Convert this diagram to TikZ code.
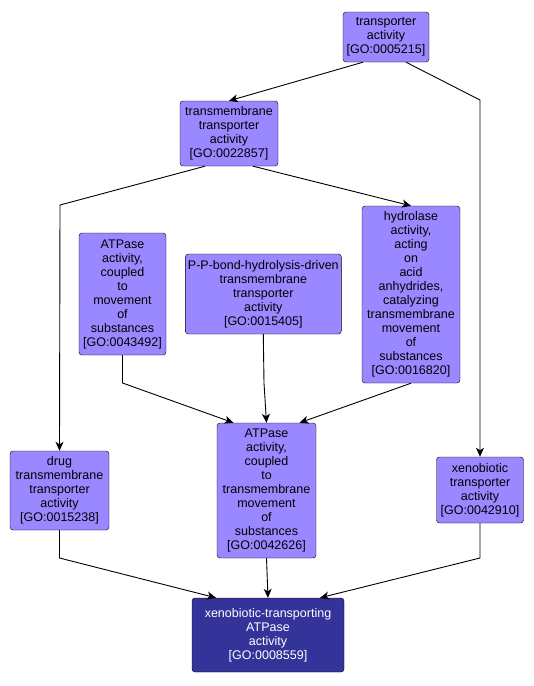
\documentclass[tikz,border=0pt]{standalone}
\usepackage{fontspec}
\setmainfont{Liberation Sans}
\usetikzlibrary{arrows.meta}
\definecolor{termfill}{RGB}{153,136,255}
\definecolor{targetfill}{RGB}{51,51,153}
\newcommand{\gofont}{\fontsize{12.5}{14}\selectfont}
\tikzset{
  goterm/.style={
    draw = black,
    fill = termfill,
    text = black,
    rounded corners = 3pt,
    inner sep = 0pt,
    align = center,
    font = \gofont
  },
  gotarget/.style={
    goterm,
    fill = targetfill,
    text = white
  },
  isa/.style={
    -{Stealth[length=9pt,width=8pt,inset=2.5pt]},
    line width = 0.9pt
  }
}

\begin{document}
\begin{tikzpicture}[x=1pt,y=-1pt]
            \useasboundingbox (0,0) rectangle (534,686);
            % terms
            \node[goterm,minimum width=86pt,minimum height=50pt] (tra) at (386,37)
                {transporter\\activity\\{[GO:0005215]}};
            \node[goterm,minimum width=98pt,minimum height=65pt] (tmt) at (229,133.5)
                {transmembrane\\transporter\\activity\\{[GO:0022857]}};
            \node[goterm,minimum width=87pt,minimum height=122pt] (atpm) at (122.5,294)
                {ATPase\\activity,\\coupled\\to\\movement\\of\\substances\\{[GO:0043492]}};
            \node[goterm,minimum width=156pt,minimum height=80pt] (ppb) at (263.3,294)
                {P-P-bond-hydrolysis-driven\\transmembrane\\transporter\\activity\\{[GO:0015405]}};
            \node[goterm,minimum width=98pt,minimum height=177pt] (hyd) at (411,294.5)
                {hydrolase\\activity,\\acting\\on\\acid\\anhydrides,\\catalyzing\\transmembrane\\movement\\of\\substances\\{[GO:0016820]}};
            \node[goterm,minimum width=99pt,minimum height=79pt] (drug) at (59.5,490.5)
                {drug\\transmembrane\\transporter\\activity\\{[GO:0015238]}};
            \node[goterm,minimum width=99pt,minimum height=135pt] (atpt) at (266.5,490.5)
                {ATPase\\activity,\\coupled\\to\\transmembrane\\movement\\of\\substances\\{[GO:0042626]}};
            \node[goterm,minimum width=87pt,minimum height=66pt] (xeno) at (480,490)
                {xenobiotic\\transporter\\activity\\{[GO:0042910]}};
            \node[gotarget,minimum width=152pt,minimum height=74pt] (xat) at (268,635)
                {xenobiotic-transporting\\ATPase\\activity\\{[GO:0008559]}};
            % bends
            \coordinate (b1) at (480,100);
            \coordinate (b2) at (60,205);
            \coordinate (b3) at (122.5,383);
            \coordinate (b4) at (264,383);
            \coordinate (b5) at (59.5,558);
            \coordinate (b6) at (480,558);
            % is_a edges
            \draw[isa] ([xshift=-23pt]tra.south) -- (tmt.north);
            \draw[isa] ([xshift=20pt]tra.south) -- (b1) -- (xeno.north);
            \draw[isa] ([xshift=-24pt]tmt.south) -- (b2) -- (drug.north);
            \draw[isa] ([xshift=24pt]tmt.south) -- (hyd.north);
            \draw[isa] (atpm.south) -- (b3) -- ([xshift=-33pt]atpt.north);
            \draw[isa] (ppb.south) -- (b4) -- (atpt.north);
            \draw[isa] (hyd.south) -- ([xshift=33pt]atpt.north);
            \draw[isa] (drug.south) -- (b5) -- ([xshift=-52pt]xat.north);
            \draw[isa] (atpt.south) -- (xat.north);
            \draw[isa] (xeno.south) -- (b6) -- ([xshift=52pt]xat.north);
        \end{tikzpicture}
\end{document}
